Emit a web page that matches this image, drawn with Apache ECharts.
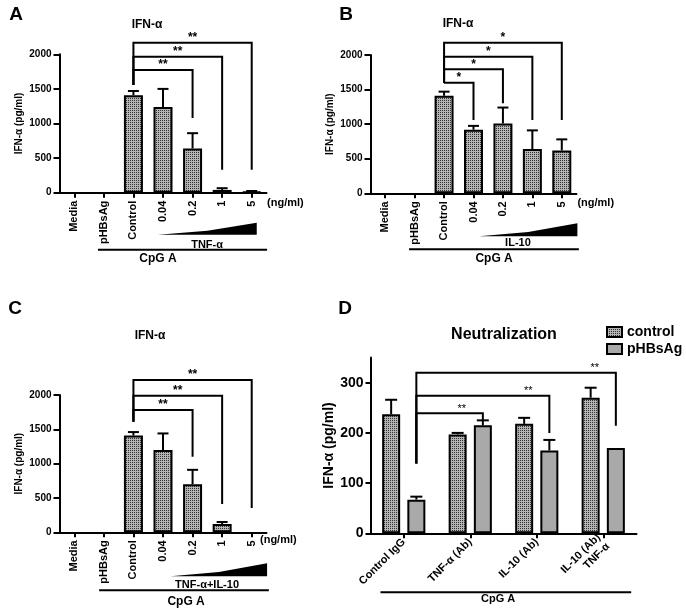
<!DOCTYPE html>
<html><head><meta charset="utf-8">
<script src="https://cdn.jsdelivr.net/npm/echarts@6/dist/echarts.min.js"></script>
<style>html,body{margin:0;padding:0;background:#fff}#c{width:686px;height:611px}</style>
</head><body><div id="c"></div>
<script>
// ---------- data ----------
const categoriesABC = ['Media', 'pHBsAg', 'Control', '0.04', '0.2', '1', '5'];
const valuesA = [0, 0, 1410, 1240, 640, 40, 15];
const errorTopA = [null, null, 1470, 1500, 860, 65, 25];
const valuesB = [0, 0, 1410, 920, 1010, 640, 620];
const errorTopB = [null, null, 1470, 975, 1240, 910, 780];
const valuesC = [0, 0, 1410, 1200, 700, 120, 0];
const errorTopC = [null, null, 1460, 1440, 910, 150, null];
const categoriesD = ['Control IgG', 'TNF-α (Ab)', 'IL-10 (Ab)', 'IL-10 (Ab)\nTNF-α'];
const controlD = [237, 197, 218, 270];
const controlErrTopD = [266, 200, 230, 290];
const hbsD = [67, 215, 165, 170];
const hbsErrTopD = [73, 225, 186, null];
const yTicksABC = [0, 500, 1000, 1500, 2000];
const yTicksD = [0, 100, 200, 300];
// significance brackets: [fromCat, level, toCat, fromBottom, toBottom]
const bracketsA = [[2, 2168, 6, 1556, 330], [2, 1965, 5, 1556, 330], [2, 1773, 4, 1556, 1080]];
const bracketsB = [[2, 2178, 6, 1599, 1060], [2, 1975, 5, 1599, 1060], [2, 1793, 4, 1599, 1301], [2, 1599, 3, 1599, 1060]];
const bracketsC = [[2, 2218, 6, 1611, 354], [2, 1990, 5, 1611, 412], [2, 1781, 4, 1611, 1101]];
const bracketsD = [[0, 320, 3, 139, 214], [0, 274, 2, 139, 200], [0, 239, 1, 139, 224]];

// ---------- layout / style ----------
const F = '"Liberation Sans", Arial, Helvetica, sans-serif';
const GRIDS = [
  {left: 59.5, top: 54.3, width: 207, height: 138.4},
  {left: 370.5, top: 55, width: 206, height: 138.3},
  {left: 59.5, top: 395, width: 207, height: 137.3},
  {left: 370.5, top: 357.6, width: 266, height: 175.7}
];
const BAR_W = 19, BAR_W_D = 18, BAR_GAP_D = 0.4;
const OFF_D = BAR_W_D * (1 + BAR_GAP_D) / 2;

function makePattern() {
  const c = document.createElement('canvas');
  c.width = 2; c.height = 2;
  const g = c.getContext('2d');
  g.fillStyle = '#b4b4b4'; g.fillRect(0, 0, 2, 2);
  g.fillStyle = '#333333'; g.fillRect(0, 0, 1, 1);
  return c;
}
const PATTERN = {image: makePattern(), repeat: 'repeat'};
const axisLine = {show: true, lineStyle: {color: '#000', width: 2}};
const tickStyle = {color: '#000', width: 2};
const plain = v => String(v);

function xAxisABC(gi) {
  return {type: 'category', gridIndex: gi, data: categoriesABC, axisLine,
    axisTick: {show: true, alignWithLabel: true, length: 5, lineStyle: tickStyle},
    axisLabel: {rotate: 90, margin: 8, color: '#000', fontFamily: F, fontWeight: 'bold', fontSize: 11}};
}
function yAxisABC(gi) {
  return {type: 'value', gridIndex: gi, min: yTicksABC[0], max: yTicksABC[yTicksABC.length - 1],
    interval: yTicksABC[1] - yTicksABC[0], splitLine: {show: false}, axisLine,
    axisTick: {show: true, length: 6, lineStyle: tickStyle},
    axisLabel: {margin: 8, color: '#000', fontFamily: F, fontWeight: 'bold', fontSize: 10, formatter: plain},
    name: 'IFN-α (pg/ml)', nameLocation: 'middle', nameRotate: 90, nameGap: 35,
    nameTextStyle: {color: '#000', fontFamily: F, fontWeight: 'bold', fontSize: 10}};
}

function errRender(cap, offset) {
  return function (params, api) {
    const i = api.value(0), v = api.value(1), e = api.value(2);
    const side = offset ? api.value(3) : 0;
    const p0 = api.coord([i, v]), p1 = api.coord([i, e]);
    const x = p0[0] + side * (offset || 0);
    return {type: 'group', children: [
      {type: 'line', shape: {x1: x, y1: p0[1], x2: x, y2: p1[1]}, style: {stroke: '#000', lineWidth: 2}},
      {type: 'line', shape: {x1: x - cap / 2, y1: p1[1], x2: x + cap / 2, y2: p1[1]}, style: {stroke: '#000', lineWidth: 2}}
    ]};
  };
}
function bracketRender(label, font, rightLabel, offset) {
  return function (params, api) {
    const from = api.value(0), lvl = api.value(1), to = api.value(2), fb = api.value(3), tb = api.value(4);
    const ox = offset || 0;
    const a = api.coord([from, fb]), b = api.coord([from, lvl]), c = api.coord([to, lvl]), d = api.coord([to, tb]);
    const pts = [[a[0] + ox, a[1]], [b[0] + ox, b[1]], [c[0] + ox, c[1]], [d[0] + ox, d[1]]];
    const tx = rightLabel ? pts[2][0] - 21 : (pts[1][0] + pts[2][0]) / 2;
    return {type: 'group', children: [
      {type: 'polyline', shape: {points: pts}, style: {stroke: '#000', lineWidth: 2, fill: null}},
      {type: 'text', style: {text: label, x: tx, y: pts[1][1] + 1, align: 'center', verticalAlign: 'bottom', font: font, fill: '#000'}}
    ]};
  };
}
function errData(vals, tops, side) {
  const out = [];
  tops.forEach((e, i) => { if (e != null) out.push(side == null ? [i, vals[i], e] : [i, vals[i], e, side]); });
  return out;
}
// zero-height bars leave no outline, as in the original
function barItems(vals) {
  return vals.map(v => v === 0 ? {value: v, itemStyle: {borderWidth: 0}} : v);
}

const series = [];
[[valuesA, errorTopA, bracketsA, '**'], [valuesB, errorTopB, bracketsB, '*'], [valuesC, errorTopC, bracketsC, '**']].forEach((p, gi) => {
  series.push({type: 'bar', xAxisIndex: gi, yAxisIndex: gi, data: barItems(p[0]), barWidth: BAR_W,
    itemStyle: {color: PATTERN, borderColor: '#000', borderWidth: 2}, silent: true, animation: false});
  series.push({type: 'custom', xAxisIndex: gi, yAxisIndex: gi, data: errData(p[0], p[1]), renderItem: errRender(11), clip: false, z: 3, animation: false});
  series.push({type: 'custom', xAxisIndex: gi, yAxisIndex: gi, data: p[2], renderItem: bracketRender(p[3], 'bold 12px ' + F, false, 0), clip: false, z: 4, animation: false});
});
series.push({name: 'control', type: 'bar', xAxisIndex: 3, yAxisIndex: 3, data: controlD, barWidth: BAR_W_D, barGap: (BAR_GAP_D * 100) + '%',
  itemStyle: {color: PATTERN, borderColor: '#000', borderWidth: 2}, animation: false});
series.push({name: 'pHBsAg', type: 'bar', xAxisIndex: 3, yAxisIndex: 3, data: hbsD, barWidth: BAR_W_D, barGap: (BAR_GAP_D * 100) + '%',
  itemStyle: {color: '#a9a9a9', borderColor: '#000', borderWidth: 2}, animation: false});
series.push({type: 'custom', xAxisIndex: 3, yAxisIndex: 3, data: errData(controlD, controlErrTopD, -1).concat(errData(hbsD, hbsErrTopD, 1)),
  renderItem: errRender(12, OFF_D), clip: false, z: 3, animation: false});
series.push({type: 'custom', xAxisIndex: 3, yAxisIndex: 3, data: bracketsD, renderItem: bracketRender('**', '11px ' + F, true, OFF_D), clip: false, z: 4, animation: false});

// ---------- annotations (relative to the axes) ----------
function px(gi, c) {
  const g = GRIDS[gi];
  const n = gi === 3 ? categoriesD.length : categoriesABC.length;
  return g.left + (c + 0.5) * g.width / n;
}
function base(gi) { return GRIDS[gi].top + GRIDS[gi].height; }
function txt(x, y, text, font, align) {
  return {type: 'text', x: x, y: y, style: {text: text, font: font, fill: '#000', align: align || 'center', verticalAlign: 'middle', textAlign: align || 'center', textVerticalAlign: 'middle'}};
}
const ANN = [
  {gi: 0, wedge: [2.83, 6.17, 42, 30], label: ['TNF-α', 4.49, 52], line: [0.80, 6.52, 57], cpg: [2.83, 66], unit: [6.52, 10]},
  {gi: 1, wedge: [3.19, 6.53, 43, 30], label: ['IL-10', 4.51, 50], line: [0.81, 6.58, 56], cpg: [3.70, 65], unit: [6.53, 10]},
  {gi: 2, wedge: [3.26, 6.52, 44, 31], label: ['TNF-α+IL-10', 4.49, 53], line: [0.84, 6.58, 58], cpg: [3.78, 69], unit: [6.28, 8]},
  {gi: 3, line: [-0.35, 3.42, 59], cpg: [1.42, 66]}
];
const graphic = [];
ANN.forEach(a => {
  const y0 = base(a.gi);
  if (a.wedge) {
    const x0 = px(a.gi, a.wedge[0]), x1 = px(a.gi, a.wedge[1]);
    const yb = y0 + a.wedge[2], yt = y0 + a.wedge[3];
    graphic.push({type: 'polygon', shape: {points: [[x0, yb], [x0 + 0.5 * (x1 - x0), yb - 0.33 * (yb - yt)], [x1, yt], [x1, yb]]}, style: {fill: '#000'}});
  }
  if (a.label) graphic.push(txt(px(a.gi, a.label[1]), y0 + a.label[2], a.label[0], 'bold 11px ' + F));
  graphic.push({type: 'line', shape: {x1: px(a.gi, a.line[0]), y1: y0 + a.line[2], x2: px(a.gi, a.line[1]), y2: y0 + a.line[2]}, style: {stroke: '#000', lineWidth: 2}});
  graphic.push(txt(px(a.gi, a.cpg[0]), y0 + a.cpg[1], 'CpG A', (a.gi === 3 ? 'bold 11px ' : 'bold 12px ') + F));
  if (a.unit) graphic.push(txt(px(a.gi, a.unit[0]), y0 + a.unit[1], '(ng/ml)', 'bold 11px ' + F, 'left'));
});
// panel letters and titles
graphic.push(txt(16, 15, 'A', 'bold 19px ' + F));
graphic.push(txt(346, 15, 'B', 'bold 19px ' + F));
graphic.push(txt(15, 309, 'C', 'bold 19px ' + F));
graphic.push(txt(345, 309, 'D', 'bold 19px ' + F));
graphic.push(txt(147, 25, 'IFN-α', 'bold 12px ' + F));
graphic.push(txt(458, 24, 'IFN-α', 'bold 12px ' + F));
graphic.push(txt(150, 336, 'IFN-α', 'bold 12px ' + F));
graphic.push(txt(504, 335, 'Neutralization', 'bold 16px ' + F));

const option = {
  animation: false,
  textStyle: {fontFamily: F},
  grid: GRIDS.map(g => Object.assign({containLabel: false}, g)),
  xAxis: [xAxisABC(0), xAxisABC(1), xAxisABC(2),
    {type: 'category', gridIndex: 3, data: categoriesD, axisLine,
      axisTick: {show: true, alignWithLabel: true, length: 5, lineStyle: tickStyle},
      axisLabel: {rotate: 45, margin: 7, color: '#000', fontFamily: F, fontWeight: 'bold', fontSize: 11, lineHeight: 13}}],
  yAxis: [yAxisABC(0), yAxisABC(1), yAxisABC(2),
    {type: 'value', gridIndex: 3, min: yTicksD[0], max: 350, splitLine: {show: false}, axisLine,
      axisTick: {show: true, length: 5, lineStyle: tickStyle, customValues: yTicksD},
      axisLabel: {margin: 7, color: '#000', fontFamily: F, fontWeight: 'bold', fontSize: 14, customValues: yTicksD, formatter: plain},
      name: 'IFN-α (pg/ml)', nameLocation: 'middle', nameRotate: 90, nameGap: 33,
      nameTextStyle: {color: '#000', fontFamily: F, fontWeight: 'bold', fontSize: 14}}],
  legend: {data: ['control', 'pHBsAg'], orient: 'vertical', left: 606, top: 324, padding: 0,
    itemWidth: 15, itemHeight: 10, itemGap: 1, icon: 'rect',
    textStyle: {fontSize: 14, fontWeight: 'bold', color: '#000', fontFamily: F, lineHeight: 16}},
  series: series,
  graphic: graphic
};
const chart = echarts.init(document.getElementById('c'), null, {renderer: 'canvas'});
chart.setOption(option);
</script>
</body></html>
